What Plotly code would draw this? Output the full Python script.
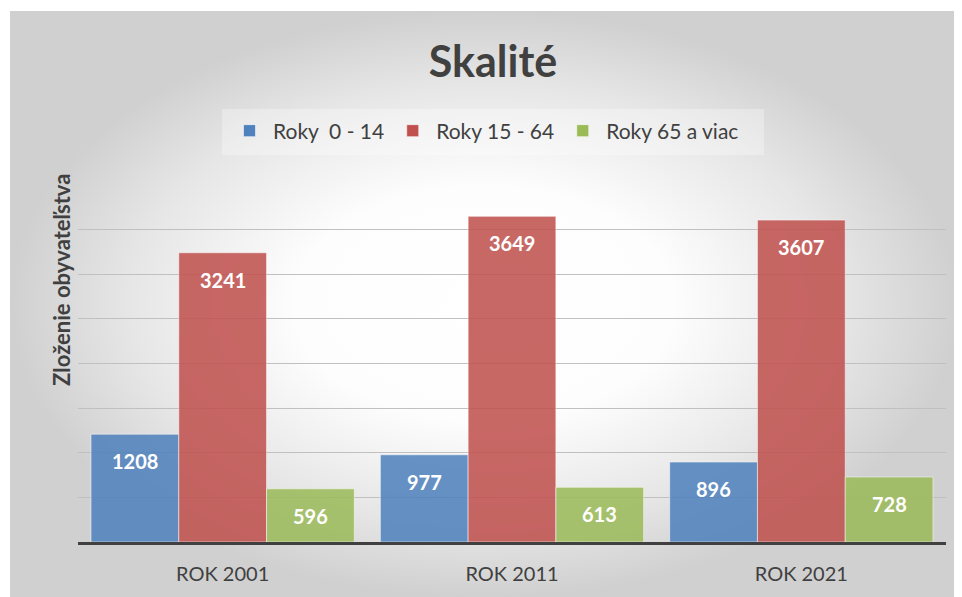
import plotly.graph_objects as go

categories = ["ROK 2001", "ROK 2011", "ROK 2021"]
series_names = ["Roky  0 - 14", "Roky 15 - 64", "Roky 65 a viac"]
age_0_14 = [1208, 977, 896]
age_15_64 = [3241, 3649, 3607]
age_65_plus = [596, 613, 728]
colors = ["#4f81bd", "#c0504d", "#9bbb59"]

# page has an 8px body margin; work in page pixels and convert
OFF = 8
W, H = 962 - OFF, 597 - OFF
ML, MR, MT, MB = 10 - OFF, 4, 11 - OFF, 0
PW, PH = W - ML - MR, H - MT - MB

def px_x(x):
    return (x - OFF - ML) / PW

def px_y(y):
    return (H - MB - (y - OFF)) / PH

FONT = "Lato"
TXT = "#404040"

fig = go.Figure()

# background gradient (on a full-size helper subplot)
fig.add_trace(go.Scatter(
    x=[0, 1, 1, 0, 0], y=[0, 0, 1, 1, 0], mode="lines", fill="toself",
    line=dict(width=0), fillcolor="#eeeeee",
    fillgradient=dict(type="radial",
                      colorscale=[[0, "#ffffff"], [0.4, "#fdfdfd"], [0.75, "#e6e6e6"], [1, "#d0d0d0"]]),
    xaxis="x", yaxis="y", showlegend=False, hoverinfo="skip",
))

all_series = [age_0_14, age_15_64, age_65_plus]
for name, vals, col in zip(series_names, all_series, colors):
    fig.add_trace(go.Bar(
        x=categories, y=vals, name=name,
        marker=dict(color=col, opacity=0.86, line=dict(color="rgba(255,255,255,0.55)", width=1)),
        xaxis="x2", yaxis="y2", hoverinfo="x+y",
    ))

BARGAP = 0.09
x_dom = [px_x(78), px_x(946)]
y_dom = [px_y(542), px_y(185)]
group_px = (946 - 78) / len(categories)
bar_px = group_px * (1 - BARGAP) / 3

annotations = []
for i, vals in enumerate(all_series):
    for c, v in zip(categories, vals):
        annotations.append(dict(
            x=c, y=v, xref="x2", yref="y2", text=f"<b>{v}</b>", showarrow=False,
            xshift=(i - 1) * bar_px, yshift=-27, yanchor="middle",
            font=dict(family=FONT, size=20, color="white"),
        ))

annotations.append(dict(
    x=px_x(62), y=px_y(280), xref="paper", yref="paper", text="<b>Zloženie obyvateľstva</b>",
    textangle=-90, showarrow=False, xanchor="center", yanchor="middle",
    font=dict(family=FONT, size=22, color=TXT),
))

fig.update_layout(
    width=W, height=H,
    margin=dict(l=ML, r=MR, t=MT, b=MB, pad=0),
    paper_bgcolor="white", plot_bgcolor="rgba(0,0,0,0)",
    barmode="group", bargap=BARGAP, bargroupgap=0,
    title=dict(text="<b>Skalité</b>", x=(493 - OFF) / W, xref="container", xanchor="center",
               y=1 - (62 - OFF) / H, yref="container", yanchor="middle",
               font=dict(family=FONT, size=43, color=TXT)),
    xaxis=dict(domain=[0, 1], range=[0, 1], visible=False, fixedrange=True),
    yaxis=dict(domain=[0, 1], range=[0, 1], visible=False, fixedrange=True),
    xaxis2=dict(domain=x_dom, anchor="y2", showgrid=False, ticks="", showline=True,
                linecolor="#404040", linewidth=3, ticklabelstandoff=12,
                tickfont=dict(family=FONT, size=20, color=TXT)),
    yaxis2=dict(domain=y_dom, anchor="x2", range=[0, 4000], dtick=500, showticklabels=False,
                showgrid=True, gridcolor="#c0c0c0", gridwidth=1, zeroline=False, showline=False),
    legend=dict(orientation="h", x=px_x(226), y=px_y(131), xanchor="left", yanchor="middle",
                bgcolor="rgba(0,0,0,0)", font=dict(family=FONT, size=21, color=TXT),
                itemwidth=37, traceorder="normal"),
    shapes=[dict(type="rect", xref="paper", yref="paper", x0=px_x(222), x1=px_x(764),
                 y0=px_y(155), y1=px_y(109), fillcolor="rgba(255,255,255,0.3)",
                 line=dict(width=0), layer="above")],
    annotations=annotations,
)

fig.write_html("out.html")
